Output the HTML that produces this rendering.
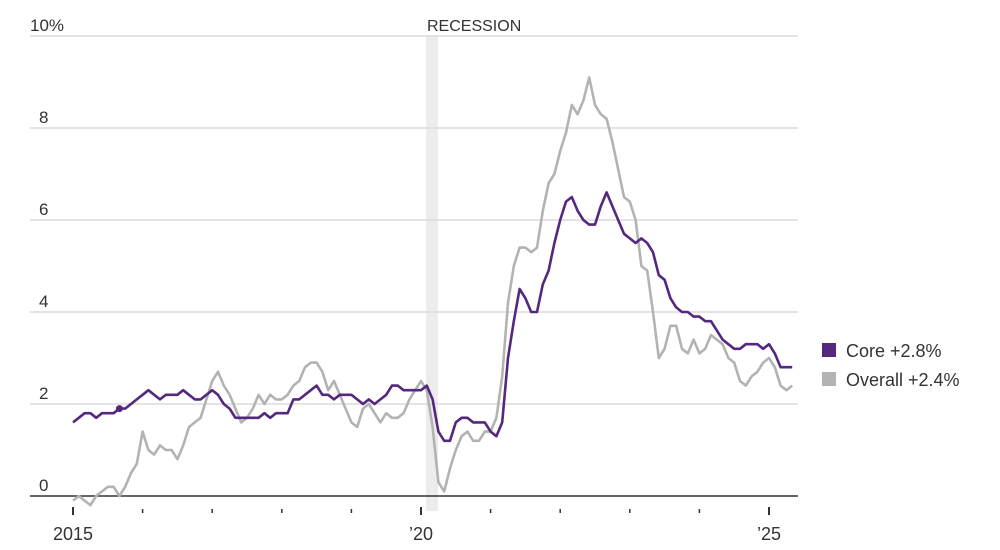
<!DOCTYPE html>
<html><head><meta charset="utf-8">
<style>
body{margin:0;background:#fff;width:1000px;height:545px;overflow:hidden;font-family:"Liberation Sans",sans-serif;}
svg text{font-family:"Liberation Sans",sans-serif;fill:#333;}
</style></head><body>
<svg id="chart" width="1000" height="545" viewBox="0 0 1000 545">
<rect x="426" y="36" width="12" height="475" fill="#ececec"/>
<text x="427" y="31" font-size="16" fill="#555">RECESSION</text>
<g id="grid"></g>
<g id="xaxis"></g>
<g id="series"></g>
<g>
<rect x="822" y="343" width="14" height="14" fill="#55287f"/>
<text x="846" y="357" font-size="18">Core +2.8%</text>
<rect x="822" y="372" width="14" height="14" fill="#b3b3b3"/>
<text x="846" y="386" font-size="18">Overall +2.4%</text>
</g>
</svg>
<script>
const yTicks=[0,2,4,6,8,10];
const yTickLabels=["0","2","4","6","8","10%"];
const xTickYears=[2015,2016,2017,2018,2019,2020,2021,2022,2023,2024,2025];
const xTickLabels={2015:"2015",2020:"\u201920",2025:"\u201925"};
const startYear=2015;
const core=[1.6,1.7,1.8,1.8,1.7,1.8,1.8,1.8,1.9,1.9,2.0,2.1,
2.2,2.3,2.2,2.1,2.2,2.2,2.2,2.3,2.2,2.1,2.1,2.2,
2.3,2.2,2.0,1.9,1.7,1.7,1.7,1.7,1.7,1.8,1.7,1.8,
1.8,1.8,2.1,2.1,2.2,2.3,2.4,2.2,2.2,2.1,2.2,2.2,
2.2,2.1,2.0,2.1,2.0,2.1,2.2,2.4,2.4,2.3,2.3,2.3,
2.3,2.4,2.1,1.4,1.2,1.2,1.6,1.7,1.7,1.6,1.6,1.6,
1.4,1.3,1.6,3.0,3.8,4.5,4.3,4.0,4.0,4.6,4.9,5.5,
6.0,6.4,6.5,6.2,6.0,5.9,5.9,6.3,6.6,6.3,6.0,5.7,
5.6,5.5,5.6,5.5,5.3,4.8,4.7,4.3,4.1,4.0,4.0,3.9,
3.9,3.8,3.8,3.6,3.4,3.3,3.2,3.2,3.3,3.3,3.3,3.2,
3.3,3.1,2.8,2.8,2.8];
const overall=[-0.1,0.0,-0.1,-0.2,0.0,0.1,0.2,0.2,0.0,0.2,0.5,0.7,
1.4,1.0,0.9,1.1,1.0,1.0,0.8,1.1,1.5,1.6,1.7,2.1,
2.5,2.7,2.4,2.2,1.9,1.6,1.7,1.9,2.2,2.0,2.2,2.1,
2.1,2.2,2.4,2.5,2.8,2.9,2.9,2.7,2.3,2.5,2.2,1.9,
1.6,1.5,1.9,2.0,1.8,1.6,1.8,1.7,1.7,1.8,2.1,2.3,
2.5,2.3,1.5,0.3,0.1,0.6,1.0,1.3,1.4,1.2,1.2,1.4,
1.4,1.7,2.6,4.2,5.0,5.4,5.4,5.3,5.4,6.2,6.8,7.0,
7.5,7.9,8.5,8.3,8.6,9.1,8.5,8.3,8.2,7.7,7.1,6.5,
6.4,6.0,5.0,4.9,4.0,3.0,3.2,3.7,3.7,3.2,3.1,3.4,
3.1,3.2,3.5,3.4,3.3,3.0,2.9,2.5,2.4,2.6,2.7,2.9,
3.0,2.8,2.4,2.3,2.4];
const NS="http://www.w3.org/2000/svg";
const x=m=>73+m*(696/120);
const y=v=>496-v*46;
function mk(tag,attrs,parent){const e=document.createElementNS(NS,tag);for(const k in attrs)e.setAttribute(k,attrs[k]);parent.appendChild(e);return e;}
const grid=document.getElementById('grid');
yTicks.forEach((t,i)=>{
 if(t>0){const l=mk('line',{x1:30,x2:798,y1:y(t),y2:y(t),stroke:'#dcdcdc','stroke-width':1.5},grid);
 
 }
 const tx=mk('text',{x:t===10?30:39,y:y(t)-5,'font-size':17,fill:'#444'},grid);
 tx.textContent=yTickLabels[i];
 
 
});
const xa=document.getElementById('xaxis');
const base=mk('line',{x1:30,x2:798,y1:y(0),y2:y(0),stroke:'#333','stroke-width':1.5},xa);


xTickYears.forEach(yr=>{
 const xx=x((yr-startYear)*12);
 const major=xTickLabels[yr]!==undefined;
 const tk=mk('line',{x1:xx,x2:xx,y1:major?507:509,y2:major?515:513,stroke:'#333','stroke-width':major?2:1.5},xa);
 
 
 if(major){const t=mk('text',{x:xx,y:540,'font-size':18,'text-anchor':'middle'},xa);
 t.textContent=xTickLabels[yr];
 
 }
});
const sg=document.getElementById('series');
function path(vals,color,name){
 const d=vals.map((v,i)=>(i?'L':'M')+x(i).toFixed(1)+','+y(v).toFixed(1)).join('');
 const p=mk('path',{d:d,fill:'none',stroke:color,'stroke-width':2.6,'stroke-linejoin':'round'},sg);
 
 
}
path(overall,'#b3b3b3','overall-line');
path(core,'#55287f','core-line');
const dot=mk('circle',{cx:x(8),cy:y(core[8]),r:3.5,fill:'#55287f'},sg);


</script>
</body></html>
